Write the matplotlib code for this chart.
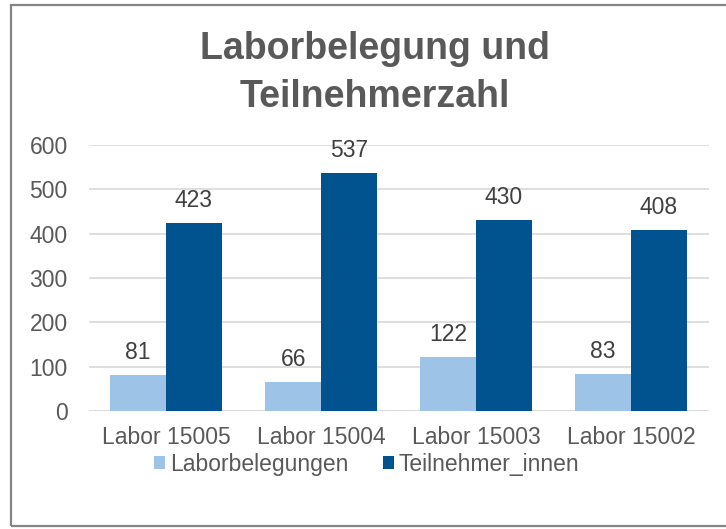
import matplotlib
matplotlib.use("Agg")
import matplotlib.pyplot as plt
import numpy as np
from matplotlib.patches import Rectangle

# data
labs = ["Labor 15005", "Labor 15004", "Labor 15003", "Labor 15002"]
belegungen = [81, 66, 122, 83]
teilnehmer = [423, 537, 430, 408]

plt.rcParams['font.family'] = ['Liberation Sans', 'DejaVu Sans']
txt_col = '#595959'
light = '#9DC3E6'
dark = '#00538F'
fs = 16.5

fig = plt.figure(figsize=(7.26, 5.29), dpi=100)
# chart frame (right edge is cut off in the original)
fig.patches.append(Rectangle((11 / 726, 1 - 526 / 529), 730 / 726, 521 / 529,
                             transform=fig.transFigure, fill=False,
                             edgecolor='#858585', linewidth=1.6))
ax = fig.add_axes([0.122, 0.223, 0.854, 0.503])

x = np.arange(len(labs))
w = 0.36
b1 = ax.bar(x - w / 2, belegungen, w, color=light, label='Laborbelegungen', zorder=3)
b2 = ax.bar(x + w / 2, teilnehmer, w, color=dark, label='Teilnehmer_innen', zorder=3)

for bars in (b1, b2):
    for r in bars:
        ax.annotate(str(int(r.get_height())), (r.get_x() + r.get_width() / 2, r.get_height()),
                    xytext=(0, 8), textcoords='offset points', ha='center', va='bottom',
                    fontsize=fs, color='#404040')

ax.set_xlim(-0.5, len(labs) - 0.5)
ax.set_ylim(0, 600)
ax.set_yticks(range(0, 601, 100))
ax.set_xticks(x)
ax.set_xticklabels(labs)
ax.yaxis.grid(True, color='#D9D9D9', linewidth=1.2, zorder=0)
for s in ax.spines.values():
    s.set_visible(False)
ax.axhline(0, color='#D9D9D9', linewidth=1.2, zorder=2)
ax.tick_params(length=0, labelsize=fs, labelcolor=txt_col)
ax.tick_params(axis='x', pad=11)
ax.tick_params(axis='y', pad=15)

fig.text(0.516, 0.862, "Laborbelegung und\nTeilnehmerzahl", ha='center', va='center',
         fontsize=27, fontweight='bold', color=txt_col, linespacing=1.4)

fig.legend(handles=[b1, b2], loc='center', bbox_to_anchor=(0.505, 0.122), ncol=2,
           frameon=False, fontsize=fs, handlelength=0.5, handleheight=0.5,
           handletextpad=0.2, columnspacing=1.5, labelcolor=txt_col)

fig.savefig('out.png', dpi=100)
